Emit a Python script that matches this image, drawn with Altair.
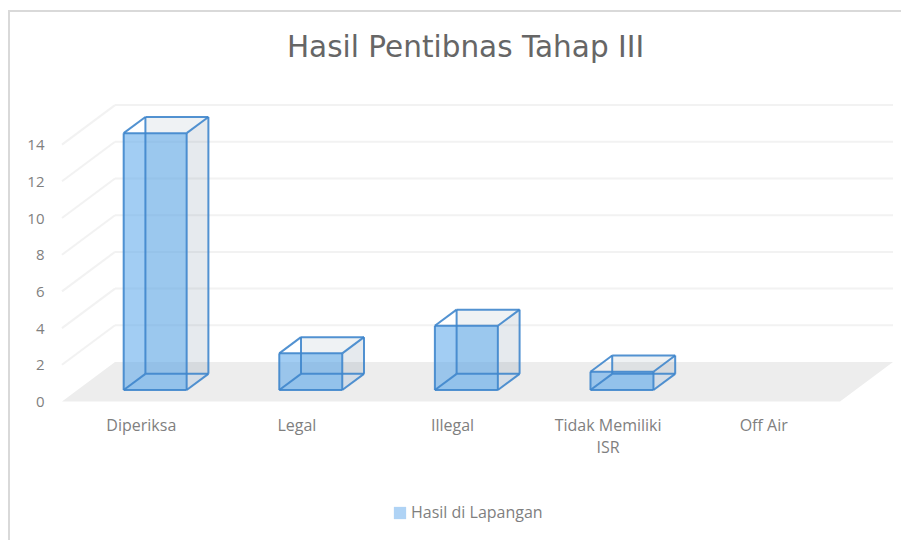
import altair as alt
import pandas as pd

categories = ["Diperiksa", "Legal", "Illegal", "Tidak Memiliki ISR", "Off Air"]
axis_lines = [["Diperiksa"], ["Legal"], ["Illegal"], ["Tidak Memiliki", "ISR"], ["Off Air"]]
values = [14, 2, 3.5, 1, 0]
y_ticks = [0, 2, 4, 6, 8, 10, 12, 14]
series_name = "Hasil di Lapangan"
title_text = "Hasil Pentibnas Tahap III"

# oblique projection of Excel's 3-D column chart
W, H = 893, 532
SLOT_PX, UNIT_PX = 155.6, 18.35
ORIGIN_X, ORIGIN_Y = 54, 393.5
DEPTH_X = 53 / SLOT_PX
DEPTH_Y = 39.5 / UNIT_PX
BAR_HALF, D0, D1 = 0.2024, 0.29, 0.70
x_dom = [-ORIGIN_X / SLOT_PX, (W - ORIGIN_X) / SLOT_PX]
y_dom = [-(H - ORIGIN_Y) / UNIT_PX, ORIGIN_Y / UNIT_PX]


def proj(slot, v, d):
    return slot + d * DEPTH_X, v + d * DEPTH_Y


X = alt.Scale(domain=x_dom, range=[0, W], nice=False, zero=False)
Y = alt.Scale(domain=y_dom, range=[H, 0], nice=False, zero=False)

front, back, right, bottom, edges = [], [], [], [], []
for i, (c, v) in enumerate(zip(categories, values)):
    if v <= 0:
        continue
    l, r = i + 0.5 - BAR_HALF, i + 0.5 + BAR_HALF
    fx0, fy0 = proj(l, 0, D0)
    fx1, fy1 = proj(r, v, D0)
    bx0, by0 = proj(l, 0, D1)
    bx1, by1 = proj(r, v, D1)
    front.append(dict(cat=c, x=fx0, x2=fx1, y=fy0, y2=fy1, series=series_name))
    back.append(dict(cat=c, x=bx0, x2=bx1, y=by0, y2=by1))
    right += [dict(cat=c, x=fx1, y=fy0, y2=fy1), dict(cat=c, x=bx1, y=by0, y2=by1)]
    bottom += [dict(cat=c, y=fy0, x=fx0, x2=fx1), dict(cat=c, y=by0, x=bx0, x2=bx1)]
    # twelve edges of the box
    f = [(fx0, fy0), (fx1, fy0), (fx1, fy1), (fx0, fy1)]
    b = [(bx0, by0), (bx1, by0), (bx1, by1), (bx0, by1)]
    for k in range(4):
        for p, q in ((f[k], f[(k + 1) % 4]), (b[k], b[(k + 1) % 4]), (f[k], b[k])):
            edges.append(dict(x=p[0], y=p[1], x2=q[0], y2=q[1]))

n = len(categories)
floor = pd.DataFrame([dict(y=0, x=0, x2=n), dict(y=DEPTH_Y, x=DEPTH_X, x2=n + DEPTH_X)])
grid = []
for t in y_ticks:
    if t == 0:
        continue
    grid.append(dict(x=0, y=t, x2=DEPTH_X, y2=t + DEPTH_Y))
    grid.append(dict(x=DEPTH_X, y=t + DEPTH_Y, x2=n + DEPTH_X, y2=t + DEPTH_Y))

label_expr = "[" + ",".join(str(a) for a in axis_lines) + "][floor(datum.value)]"
FONT = "Open Sans"
TXT = "#7f7f7f"

Y_AXIS = alt.Axis(
    values=y_ticks, offset=-36, domain=False, ticks=False, grid=False, labelPadding=0, title=None,
    labelOffset=0, labelColor=TXT, labelFont=FONT, labelFontSize=15, labelOverlap=False, labelBound=False)
X_AXIS = alt.Axis(
    values=[k + 0.5 for k in range(n)], labelExpr=label_expr, offset=-123, domain=False, ticks=False, title=None,
    labelOffset=1, grid=False, labelPadding=0, labelColor=TXT, labelFont=FONT, labelFontSize=16, labelLineHeight=22,
    labelOverlap=False, labelBound=False, labelFlush=False, labelAngle=0, labelBaseline="top")
PX = alt.X("x:Q", scale=X, axis=X_AXIS)
PY = alt.Y("y:Q", scale=Y, axis=Y_AXIS)

frame = alt.Chart(pd.DataFrame({"a": [0]})).mark_rect(
    fill="transparent", stroke="#d9d9d9", strokeWidth=2
).encode(x=alt.value(1), x2=alt.value(W + 20), y=alt.value(3), y2=alt.value(H + 20))

floor_l = alt.Chart(floor).mark_area(orient="horizontal", color="#ededed").encode(
    y=PY, x=PX, x2="x2:Q",
)


def rules(data, **kw):
    return alt.Chart(pd.DataFrame(data)).mark_rule(**kw).encode(x=PX, x2="x2:Q", y=PY, y2="y2:Q")


grid_l = rules(grid, color="#f2f2f2", strokeWidth=2)

back_l = alt.Chart(pd.DataFrame(back)).mark_rect(color="#4a6a8a", opacity=0.09).encode(
    x=PX, x2="x2:Q", y=PY, y2="y2:Q",
)
bottom_l = alt.Chart(pd.DataFrame(bottom)).mark_area(orient="horizontal", color="#5fa8eb", opacity=0.12).encode(
    y=PY, x=PX, x2="x2:Q", detail="cat:N",
)
right_l = alt.Chart(pd.DataFrame(right)).mark_area(color="#4a6a8a", opacity=0.05).encode(
    x=PX, y=PY, y2="y2:Q", detail="cat:N",
)
front_l = alt.Chart(pd.DataFrame(front)).mark_rect(opacity=0.58).encode(
    x=PX, x2="x2:Q", y=PY, y2="y2:Q",
    color=alt.Color("series:N", scale=alt.Scale(range=["#5fa8eb"]), legend=alt.Legend(
        orient="none", legendX=384, legendY=497, title=None, symbolType="square", symbolSize=150,
        symbolStrokeWidth=0, symbolOpacity=0.5, labelFont=FONT, labelFontSize=16, labelColor=TXT, labelOffset=3)),
)
edge_l = rules(edges, color="#3f86cc", strokeWidth=2, opacity=0.9)

chart = alt.layer(frame, floor_l, grid_l, back_l, bottom_l, right_l, front_l, edge_l).properties(
    width=W, height=H,
    padding=0,
    autosize=alt.AutoSizeParams(type="none"),
    title=alt.TitleParams(title_text, font="DejaVu Sans", fontSize=29.5, fontWeight="normal", color="#666666",
                          anchor="middle", dx=11, dy=78, offset=0, baseline="alphabetic"),
).configure_view(stroke=None).resolve_scale(x="shared", y="shared")

chart.save("out.html", embed_options={"renderer": "svg", "actions": False})
